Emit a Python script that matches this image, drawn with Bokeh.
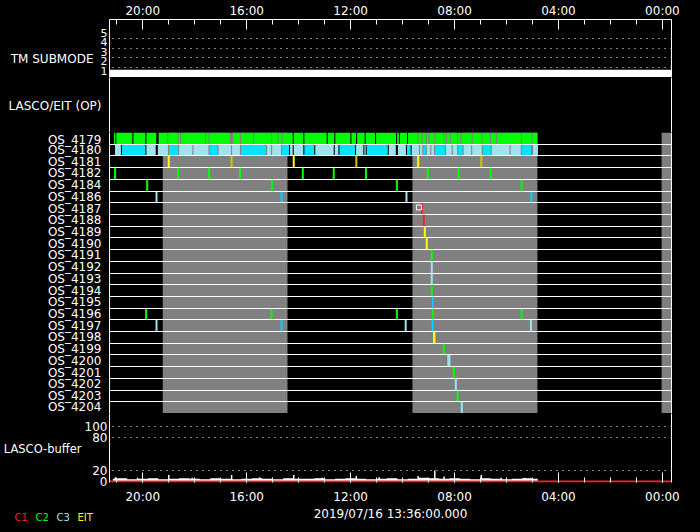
from bokeh.plotting import figure
from bokeh.models import (Range1d, FixedTicker, CustomJSTickFormatter, LinearAxis,
                          ColumnDataSource, GlobalInlineStyleSheet)
from bokeh.core.properties import value
from bokeh.layouts import column
from bokeh.embed import file_html
from bokeh.resources import INLINE

# ---------------- data ----------------
x_first, x_last = 21.28, -0.35          # hours shown, axis runs backwards
hour_ticks = [0, 4, 8, 12, 16, 20]
hour_minor = list(range(0, 22))
date_text = "2019/07/16 13:36:00.000"

tm_ticks = [1, 2, 3, 4, 5]
tm_times = [21.28, -0.35]
tm_mode = [1, 1]

os_rows = ["OS_4179", "OS_4180", "OS_4181", "OS_4182", "OS_4184", "OS_4186",
           "OS_4187", "OS_4188", "OS_4189", "OS_4190", "OS_4191", "OS_4192",
           "OS_4193", "OS_4194", "OS_4195", "OS_4196", "OS_4197", "OS_4198",
           "OS_4199", "OS_4200", "OS_4201", "OS_4202", "OS_4203", "OS_4204"]

gray_start = [19.23, 9.62, 0.03]
gray_end = [14.43, 4.81, -0.35]

c2_run_start = [21.11, 21.02, 20.36, 19.86, 19.39, 19.02, 18.62, 18.52, 17.56, 17.43,
                16.53, 16.22, 15.71, 15.02, 14.78, 14.62, 14.19, 13.78, 12.88, 12.59,
                11.97, 11.75, 11.42, 11.02, 10.21, 10.10, 9.79, 9.39, 9.23, 9.07,
                8.97, 8.74, 8.40, 8.30, 8.14, 7.86, 7.74, 7.30, 6.93, 6.60,
                6.36, 5.41, 5.00]
c2_run_end = [21.06, 20.40, 19.90, 19.48, 19.06, 18.66, 18.56, 17.60, 17.47, 16.65,
              16.26, 15.75, 15.06, 14.82, 14.66, 14.23, 13.82, 12.92, 12.63, 12.01,
              11.79, 11.46, 11.06, 10.25, 10.14, 9.83, 9.43, 9.27, 9.11, 9.01,
              8.78, 8.44, 8.34, 8.18, 7.90, 7.78, 7.34, 6.97, 6.64, 6.40,
              5.45, 5.04, 4.81]

c3_run_start = [21.07, 20.80, 19.86, 19.42, 18.99, 18.60, 18.05, 17.43, 17.08, 16.56,
                16.22, 15.22, 15.02, 14.64, 14.33, 14.19, 13.78, 13.36, 12.61, 12.43,
                11.79, 11.47, 11.38, 10.53, 10.18, 9.83, 9.65, 9.33, 9.20, 9.07,
                8.895, 8.75, 8.33, 8.07, 7.86, 7.65, 7.32, 6.91, 6.57, 5.84,
                5.41, 4.98]
c3_run_end = [20.84, 19.90, 19.50, 19.03, 18.64, 18.09, 17.47, 17.12, 16.60, 16.26,
              15.26, 15.06, 14.68, 14.37, 14.23, 13.82, 13.40, 12.65, 12.47, 11.83,
              11.51, 11.42, 10.57, 10.26, 9.87, 9.69, 9.37, 9.24, 9.11, 8.935,
              8.79, 8.37, 8.11, 7.90, 7.69, 7.36, 6.95, 6.61, 5.88, 5.45,
              5.05, 4.79]

mark_row = (["OS_4181"] * 6 + ["OS_4182"] * 10 + ["OS_4184"] * 4 + ["OS_4186"] * 4 +
            ["OS_4187", "OS_4188", "OS_4189", "OS_4190", "OS_4191", "OS_4192",
             "OS_4193", "OS_4194", "OS_4195"] +
            ["OS_4196"] * 5 + ["OS_4197"] * 5 + ["OS_4198"] * 2 + ["OS_4199"] +
            ["OS_4200"] * 2 + ["OS_4201", "OS_4202", "OS_4203", "OS_4204"])
mark_time = ([19.00, 16.58, 14.19, 11.78, 9.40, 6.97] +
             [21.065, 18.64, 17.45, 16.26, 13.84, 12.65, 11.41, 9.03, 7.84, 6.61] +
             [19.83, 15.03, 10.22, 5.42] +
             [19.47, 14.66, 9.85, 5.04] +
             [9.26, 9.185, 9.146, 9.07, 8.877, 8.877, 8.877, 8.877, 8.84] +
             [19.87, 15.04, 10.22, 8.84, 5.42] +
             [19.47, 14.66, 9.88, 8.84, 5.06] +
             [8.79, 8.775] + [8.415] + [8.24, 8.20] + [8.03, 7.95, 7.88, 7.72])
mark_kind = (["EIT", "EIT2", "EIT", "EIT2", "EIT", "EIT2"] +
             ["C2"] * 10 + ["C2"] * 4 +
             ["C3", "C3b", "C3", "C3b"] +
             ["C1", "C1", "EIT", "EIT", "C2", "C3", "C3", "C2", "C3b"] +
             ["C2"] * 5 +
             ["C3", "C3b", "C3", "C3b", "C3"] +
             ["EIT", "EIT"] + ["C2"] + ["C3", "C3"] + ["C2", "C3", "C2", "C3"])
flag_row = ["OS_4187"]
flag_time = [9.37]

buf_t = [21.15, 20.8, 20.4, 20.0, 19.6, 19.2, 18.8, 18.4, 18.0, 17.6, 17.2, 16.8, 16.4,
         16.0, 15.6, 15.2, 14.8, 14.4, 14.0, 13.6, 13.2, 12.8, 12.4, 12.0, 11.6, 11.2,
         10.8, 10.4, 10.0, 9.6, 9.2, 8.8, 8.4, 8.0, 7.6, 7.2, 6.8, 6.4, 6.0, 5.6, 5.2, 4.8]
buf_v = [5, 6, 4, 5, 6, 4, 5, 6, 5, 4, 6, 5, 4, 5, 6, 5, 4, 6, 5, 5, 6, 4, 5, 6, 5, 4,
         5, 6, 4, 5, 7, 6, 5, 6, 5, 4, 6, 5, 4, 5, 6, 5]
spike_t = [21.05, 20.2, 19.0, 18.1, 16.58, 15.5, 14.19, 13.1, 11.78, 10.9, 9.40, 8.76,
           8.40, 6.97, 6.2, 5.3]
spike_v = [8, 7, 12, 7, 12, 8, 12, 7, 10, 8, 10, 20, 9, 12, 7, 7]
c1_t = [21.28, -0.35]
c1_v = [0, 0]
buf_ticks = [0, 20, 80, 100]
buf_grid = [20, 80, 100]

legend_names = ["C1", "C2", "C3", "EIT"]

# ---------------- styles ----------------
FONT = "DejaVu Sans"
kind_color = {"C1": "#FF2020", "C2": "#00FF00", "C3": "#9FE3EE", "C3b": "#00D0FF",
              "EIT": "#FFFF00", "EIT2": "#C8C800"}
legend_color = ["#FF2020", "#00FF00", "#9FE3EE", "#FFFF00"]

xr = Range1d(x_first, x_last)
hour_fmt = CustomJSTickFormatter(code="const h = Math.round(tick); return (h < 10 ? '0' : '') + h + ':00';")


def text_fmt(t):
    return CustomJSTickFormatter(args=dict(t=t), code="return t;")


def style_y(ya, standoff, size="12px"):
    ya.axis_line_color = "white"
    ya.major_tick_line_color = None
    ya.minor_tick_line_color = None
    ya.major_tick_out = 0
    ya.major_tick_in = 0
    ya.minor_tick_out = 0
    ya.minor_tick_in = 0
    ya.major_label_text_color = "white"
    ya.major_label_text_font = FONT
    ya.major_label_text_font_size = size
    ya.major_label_standoff = standoff


def title_axis(p, tick, text, standoff, size="12px"):
    ax = LinearAxis(ticker=FixedTicker(ticks=[tick]), formatter=text_fmt(text))
    style_y(ax, standoff, size)
    ax.axis_line_color = None
    p.add_layout(ax, "left")


def base(h, yr, top=0, bottom=0, xloc=None):
    p = figure(width=700, height=h, x_range=xr, y_range=yr, output_backend="svg",
               toolbar_location=None, tools="", x_axis_location=xloc,
               min_border_left=109, min_border_right=29,
               min_border_top=top, min_border_bottom=bottom,
               background_fill_color="black", border_fill_color="black",
               outline_line_color=None, frame_align=False)
    p.xgrid.visible = False
    p.ygrid.visible = False
    style_y(p.yaxis[0], 2)
    ra = LinearAxis(ticker=FixedTicker(ticks=[]), axis_line_color="white",
                    major_tick_line_color=None, minor_tick_line_color=None,
                    major_tick_out=0, minor_tick_out=0,
                    major_label_text_font_size="0px")
    p.add_layout(ra, "right")
    return p


def style_x(ax, standoff):
    ax.ticker = FixedTicker(ticks=hour_ticks, minor_ticks=hour_minor)
    ax.formatter = hour_fmt
    ax.major_tick_in = 10
    ax.major_tick_out = 0
    ax.minor_tick_in = 5
    ax.minor_tick_out = 0
    ax.major_tick_line_color = "white"
    ax.minor_tick_line_color = "white"
    ax.major_label_text_color = "white"
    ax.major_label_text_font = FONT
    ax.major_label_text_font_size = "12px"
    ax.major_label_standoff = standoff


# ---- TM submode panel ----
p1 = base(77, Range1d(0.915, 7.04), top=19, xloc="above")
style_x(p1.xaxis[0], 2)
p1.xaxis[0].axis_line_color = "white"
# tick numbers sit just above their grid line, as in the original layout
p1.yaxis[0].ticker = FixedTicker(ticks=[v + 0.65 for v in tm_ticks])
p1.yaxis[0].formatter = CustomJSTickFormatter(code="return Math.floor(tick).toString();")
p1.yaxis[0].major_label_text_font_size = "11px"
p1.ygrid.visible = True
p1.ygrid.ticker = FixedTicker(ticks=tm_ticks[1:])
p1.ygrid.grid_line_color = "white"
p1.ygrid.grid_line_dash = "1 5"
p1.line(tm_times, tm_mode, line_color="white", line_width=14)
title_axis(p1, 2.92, "TM SUBMODE", 4)

# ---- LASCO/EIT (OP) empty panel ----
p2 = base(55, Range1d(0, 1))
p2.yaxis[0].ticker = FixedTicker(ticks=[0.49])
p2.yaxis[0].formatter = text_fmt("LASCO/EIT (OP)")
p2.yaxis[0].major_label_standoff = 8

# ---- OS rows ----
n = len(os_rows)
p3 = base(281, Range1d(n, 0))
p3.yaxis[0].ticker = FixedTicker(ticks=[i + 0.5 for i in range(n)])
p3.yaxis[0].formatter = CustomJSTickFormatter(args=dict(names=os_rows),
                                              code="return names[Math.floor(tick)] || '';")
p3.yaxis[0].major_label_standoff = 8
p3.ygrid.visible = True
p3.ygrid.ticker = FixedTicker(ticks=list(range(n + 1)))
p3.ygrid.grid_line_color = "white"
p3.ygrid.grid_line_width = 1
p3.ygrid.level = "overlay"

p3.quad(left=gray_start, right=gray_end, bottom=n, top=0, fill_color="#808080", line_color=None)

r0 = os_rows.index("OS_4179")
p3.quad(left=c2_run_start, right=c2_run_end, top=r0, bottom=r0 + 1,
        fill_color="#00FF00", line_color=None)
r1 = os_rows.index("OS_4180")
c3_cols = ["#9FE3EE" if i % 3 != 1 else "#00E5FF" for i in range(len(c3_run_start))]
p3.quad(left=c3_run_start, right=c3_run_end, top=r1, bottom=r1 + 1,
        fill_color=c3_cols, line_color=None)

rows_idx = [os_rows.index(r) for r in mark_row]
msrc = ColumnDataSource(dict(t=mark_time, y0=rows_idx, y1=[i + 1 for i in rows_idx],
                             c=[kind_color[k] for k in mark_kind]))
p3.segment(x0="t", x1="t", y0="y0", y1="y1", line_color="c", line_width=2, source=msrc)
p3.scatter(flag_time, [os_rows.index(r) + 0.4 for r in flag_row], marker="square", size=5,
           fill_color=None, line_color="white", line_width=1)

# ---- LASCO buffer ----
p4 = base(93, Range1d(-1.8, 124.5), bottom=22, xloc="below")
style_x(p4.xaxis[0], 7)
p4.xaxis[0].axis_line_color = None
p4.yaxis[0].ticker = FixedTicker(ticks=buf_ticks)
p4.yaxis[0].major_label_standoff = 2
p4.ygrid.visible = True
p4.ygrid.ticker = FixedTicker(ticks=buf_grid)
p4.ygrid.grid_line_color = "white"
p4.ygrid.grid_line_dash = "1 5"
p4.varea_step(x=buf_t, y1=0, y2=buf_v, step_mode="center", fill_color="white")
p4.segment(x0=spike_t, x1=spike_t, y0=0, y1=spike_v, line_color="white", line_width=1.5)
p4.line(c1_t, c1_v, line_color="#FF2020", line_width=2)
title_axis(p4, 60, "LASCO-buffer", 0, "11.5px")

# ---- footer: date stamp and instrument legend ----
p5 = figure(width=700, height=26, x_range=Range1d(0, 700), y_range=Range1d(26, 0),
            output_backend="svg", toolbar_location=None, tools="",
            x_axis_location=None, y_axis_location=None, frame_align=False,
            min_border_left=0, min_border_right=0, min_border_top=0, min_border_bottom=0,
            background_fill_color="black", border_fill_color="black", outline_line_color=None)
p5.xgrid.visible = False
p5.ygrid.visible = False
p5.text(x=[390], y=[7], text=[date_text], text_color="white", text_font=value(FONT),
        text_font_size="12px", text_align="center", text_baseline="middle")
p5.text(x=[14, 35, 56, 77], y=[10.7] * 4, text=legend_names, text_color=legend_color,
        text_font=value(FONT), text_font_size="10px", text_align="left",
        text_baseline="middle")

layout = column(p1, p2, p3, p4, p5, spacing=0,
                stylesheets=[GlobalInlineStyleSheet(
                    css="html, body {margin:0; padding:0; background:#000; overflow:hidden;}")])

open("out.html", "w").write(file_html(layout, INLINE))
